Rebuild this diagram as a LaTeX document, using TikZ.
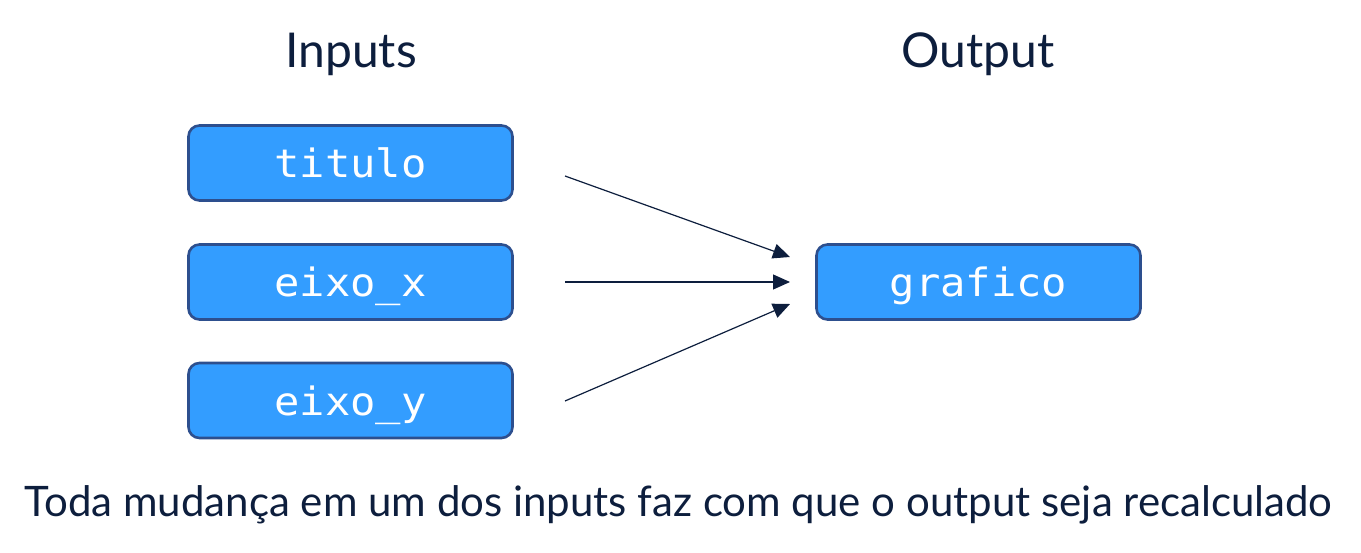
\documentclass[tikz,border=0pt]{standalone}
\usepackage{fontspec}
\setmainfont{Lato}
\newfontfamily\codefont[FakeStretch=1.08]{DejaVu Sans Mono}
\usetikzlibrary{arrows.meta}
\definecolor{navy}{HTML}{0D1E3D}
\definecolor{boxfill}{HTML}{339DFF}
\definecolor{boxline}{HTML}{2D4F8E}
\tikzset{
  varbox/.style={draw=boxline, fill=boxfill, line width=2.6pt, rounded corners=11pt,
    minimum width=324pt, minimum height=75pt, inner sep=0pt,
    text=white, font=\codefont\fontsize{39}{39}\selectfont,
    text height=29.4pt, text depth=0pt},
  heading/.style={text=navy, font=\fontsize{48}{48}\selectfont, anchor=base, inner sep=0pt},
  caption/.style={text=navy, font=\fontsize{42}{42}\selectfont, anchor=base, inner sep=0pt},
  conn/.style={draw=navy, line width=1.2pt, -{Triangle[length=17pt,width=15pt]}}
}
\begin{document}
\begin{tikzpicture}[x=1pt,y=1pt]
\useasboundingbox (0,0) rectangle (1361,552);
\node[heading] (hin) at (351,484) {Inputs};
\node[heading] (hout) at (978,484) {Output};
\node[varbox] (titulo) at (350.5,389) {titulo};
\node[varbox] (eixox) at (350.5,270) {eixo\_x};
\node[varbox] (eixoy) at (350.5,151.5) {eixo\_y};
\node[varbox] (grafico) at (978.5,270) {grafico};
\coordinate (s1) at (565,376);
\coordinate (s2) at (565,270);
\coordinate (s3) at (565,151);
\coordinate (e1) at (790,295);
\coordinate (e2) at (790,270);
\coordinate (e3) at (790,248);
\draw[conn] (s1) -- (e1);
\draw[conn] (s2) -- (e2);
\draw[conn] (s3) -- (e3);
\node[caption] (cap) at (678.5,35) {Toda mudança em um dos inputs faz com que o output seja recalculado};
\end{tikzpicture}
\end{document}
